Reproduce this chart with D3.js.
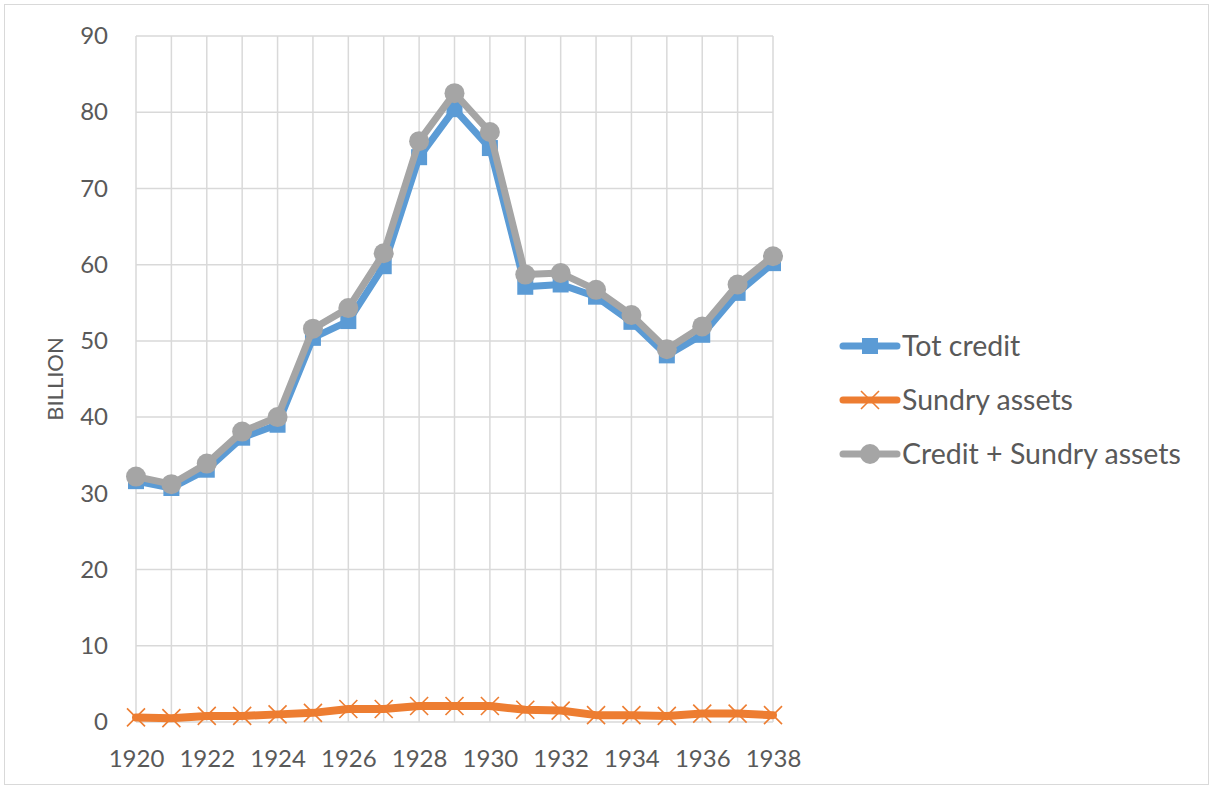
<!DOCTYPE html>
<html>
<head>
<meta charset="utf-8">
<script src="https://cdnjs.cloudflare.com/ajax/libs/d3/7.8.5/d3.min.js"></script>
<style>
  body { margin: 0; background: #fff; }
  text { font-family: Lato, "Open Sans", sans-serif; fill: #595959; }
</style>
</head>
<body>
<svg id="chart"></svg>
<script>
// data
const years = [1920, 1921, 1922, 1923, 1924, 1925, 1926, 1927, 1928, 1929,
               1930, 1931, 1932, 1933, 1934, 1935, 1936, 1937, 1938];
const totCredit = [31.6, 30.7, 33.1, 37.3, 39.0, 50.4, 52.6, 59.8, 74.1, 80.4,
                   75.3, 57.1, 57.4, 55.8, 52.5, 48.1, 50.8, 56.3, 60.2];
const sundryAssets = [0.6, 0.5, 0.8, 0.8, 1.0, 1.2, 1.7, 1.7, 2.1, 2.1,
                      2.1, 1.6, 1.5, 0.9, 0.9, 0.8, 1.1, 1.1, 0.9];
const creditPlusSundry = [32.2, 31.2, 33.9, 38.1, 40.0, 51.6, 54.3, 61.5, 76.2, 82.5,
                          77.4, 58.7, 58.9, 56.7, 53.4, 48.9, 51.9, 57.4, 61.1];
const yTicks = [0, 10, 20, 30, 40, 50, 60, 70, 80, 90];
const xTickYears = [1920, 1922, 1924, 1926, 1928, 1930, 1932, 1934, 1936, 1938];

const width = 1213, height = 789;
const margin = { top: 36, right: 440, bottom: 67, left: 136 };

const svg = d3.select('#chart')
  .attr('width', width)
  .attr('height', height);

// outer chart border
svg.append('rect')
  .attr('x', 4.5).attr('y', 4.5)
  .attr('width', width - 9).attr('height', height - 9)
  .attr('fill', 'none')
  .attr('stroke', '#d9d9d9');

const xScale = d3.scaleLinear()
  .domain([1920, 1938])
  .range([margin.left, width - margin.right]);

const yScale = d3.scaleLinear()
  .domain([0, 90])
  .range([height - margin.bottom, margin.top]);

// gridlines
svg.append('g')
  .selectAll('line.h')
  .data(yTicks)
  .enter().append('line')
  .attr('x1', xScale(1920)).attr('x2', xScale(1938))
  .attr('y1', d => yScale(d)).attr('y2', d => yScale(d))
  .attr('stroke', '#d9d9d9').attr('stroke-width', 1.5);

svg.append('g')
  .selectAll('line.v')
  .data(years)
  .enter().append('line')
  .attr('x1', d => xScale(d)).attr('x2', d => xScale(d))
  .attr('y1', yScale(0)).attr('y2', yScale(90))
  .attr('stroke', '#d9d9d9').attr('stroke-width', 1.5);

// y axis labels
const yAxis = d3.axisLeft(yScale).tickValues(yTicks).tickSize(0).tickPadding(28);
svg.append('g')
  .attr('transform', `translate(${margin.left}, 0)`)
  .call(yAxis)
  .call(g => g.select('.domain').remove())
  .selectAll('text')
  .style('font-size', '24px')
  .attr('fill', '#595959');

// x axis labels
const xAxis = d3.axisBottom(xScale).tickValues(xTickYears).tickSize(0).tickPadding(28).tickFormat(d3.format('d'));
svg.append('g')
  .attr('transform', `translate(0, ${yScale(0)})`)
  .call(xAxis)
  .call(g => g.select('.domain').remove())
  .selectAll('text')
  .style('font-size', '24px')
  .attr('fill', '#595959');

// y axis title
svg.append('text')
  .attr('transform', `translate(63, ${yScale(45)}) rotate(-90)`)
  .attr('text-anchor', 'middle')
  .style('font-size', '22px')
  .text('BILLION');

const series = [
  { label: 'Tot credit', values: totCredit, color: '#5b9bd5', marker: 'square', width: 7 },
  { label: 'Sundry assets', values: sundryAssets, color: '#ed7d31', marker: 'x', width: 8 },
  { label: 'Credit + Sundry assets', values: creditPlusSundry, color: '#a5a5a5', marker: 'circle', width: 7 }
];

function drawMarker(g, type, color) {
  if (type === 'square') {
    g.append('rect')
      .attr('x', -8).attr('y', -8).attr('width', 16).attr('height', 16)
      .attr('fill', color);
  } else if (type === 'circle') {
    g.append('circle').attr('r', 10).attr('fill', color);
  } else {
    g.append('path')
      .attr('d', 'M-9,-9L9,9M-9,9L9,-9')
      .attr('stroke', color).attr('stroke-width', 1.6)
      .attr('fill', 'none');
  }
}

const line = d3.line()
  .x((d, i) => xScale(years[i]))
  .y(d => yScale(d));

series.forEach(s => {
  svg.append('path')
    .datum(s.values)
    .attr('d', line)
    .attr('fill', 'none')
    .attr('stroke', s.color)
    .attr('stroke-width', s.width)
    .attr('stroke-linejoin', 'round')
    .attr('stroke-linecap', 'round');

  svg.append('g')
    .selectAll('g')
    .data(s.values)
    .enter().append('g')
    .attr('transform', (d, i) => `translate(${xScale(years[i])}, ${yScale(d)})`)
    .each(function() { drawMarker(d3.select(this), s.marker, s.color); });
});

// legend
const legend = svg.append('g')
  .attr('transform', 'translate(843, 346)');

const entries = legend.selectAll('g')
  .data(series)
  .enter().append('g')
  .attr('transform', (d, i) => `translate(0, ${i * 54})`);

entries.append('line')
  .attr('x1', 0).attr('x2', 54)
  .attr('stroke', d => d.color)
  .attr('stroke-width', 7)
  .attr('stroke-linecap', 'round');

entries.append('g')
  .attr('transform', 'translate(27, 0)')
  .each(function(d) { drawMarker(d3.select(this), d.marker, d.color); });

entries.append('text')
  .attr('x', 59)
  .attr('y', 10)
  .style('font-size', '28.5px')
  .text(d => d.label);
</script>
</body>
</html>
